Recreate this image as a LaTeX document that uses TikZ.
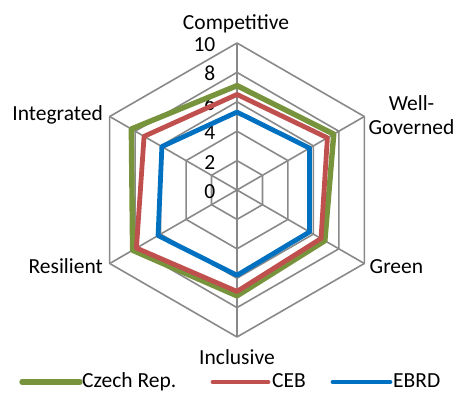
\documentclass[tikz,border=0pt]{standalone}
\usepackage{fontspec}
\setmainfont{Carlito}
\usetikzlibrary{positioning}

\definecolor{czechgreen}{HTML}{77933C}
\definecolor{cebred}{HTML}{C0504D}
\definecolor{ebrdblue}{HTML}{0070C0}
\definecolor{gridgray}{HTML}{898989}

\begin{document}
\begin{tikzpicture}[x=1pt, y=1pt, every node/.style={font=\fontsize{21.5}{24}\selectfont, inner sep=0pt},
	gridline/.style={draw=gridgray, line width=1.6pt, line join=round},
	czech/.style={draw=czechgreen, line width=5.4pt, line join=round, line cap=round},
	ceb/.style={draw=cebred, line width=4.8pt, line join=round, line cap=round},
	ebrd/.style={draw=ebrdblue, line width=4.8pt, line join=round, line cap=round}]
	\useasboundingbox (0,0) rectangle (457,392);

	\begin{scope}[shift={(237pt,202pt)}, x=14.7pt, y=14.7pt]
		\coordinate (centre) at (0,0);
		\coordinate (competitive) at (90:10);
		\coordinate (governed) at (30:10);
		\coordinate (green) at (-30:10);
		\coordinate (inclusive) at (-90:10);
		\coordinate (resilient) at (210:10);
		\coordinate (integrated) at (150:10);

		% Grid
		\foreach \r in {2,4,6,8,10}
			\draw [gridline] (90:\r) -- (30:\r) -- (-30:\r) -- (-90:\r) -- (210:\r) -- (150:\r) -- cycle;
		\foreach \a in {competitive, governed, green, inclusive, resilient, integrated}
			\draw [gridline] (centre) -- (\a);

		% Scale
		\foreach \v in {0,2,...,10}
			\node (tick\v) [anchor=base east, xshift=-21.5pt, yshift=-8.5pt] at (90:\v) {\v};

		% Series
		\draw [czech] (90:7.1) -- (30:7.6) -- (-30:6.9) -- (-90:7.2) -- (210:8.2) -- (150:8.3) -- cycle;
		\draw [ceb] (90:6.5) -- (30:7.1) -- (-30:6.6) -- (-90:6.9) -- (210:7.9) -- (150:7.3) -- cycle;
		\draw [ebrd] (90:5.3) -- (30:5.7) -- (-30:5.7) -- (-90:5.8) -- (210:6.2) -- (150:5.9) -- cycle;
	\end{scope}

	% Axis labels
	\node (competitive_lbl) [anchor=base] at (236,362.7) {Competitive};
	\node (governed_lbl) [anchor=north, align=center] at (411.5,297) {Well-\\Governed};
	\node (green_lbl) [anchor=base west] at (369.5,119) {Green};
	\node (inclusive_lbl) [anchor=base] at (237,28) {Inclusive};
	\node (resilient_lbl) [anchor=base east] at (103,119) {Resilient};
	\node (integrated_lbl) [anchor=base east] at (103,272) {Integrated};

	% Legend
	\coordinate (czech_key) at (22,10);
	\coordinate (ceb_key) at (213,10);
	\coordinate (ebrd_key) at (333,10);
	\node (czech_lbl) [anchor=base west] at (82,5) {Czech Rep.};
	\node (ceb_lbl) [anchor=base west] at (272,5) {CEB};
	\node (ebrd_lbl) [anchor=base west] at (393,5) {EBRD};
	\draw [czech] (czech_key) -- ++(58,0);
	\draw [ceb] (ceb_key) -- ++(55,0);
	\draw [ebrd] (ebrd_key) -- ++(57,0);
\end{tikzpicture}
\end{document}
